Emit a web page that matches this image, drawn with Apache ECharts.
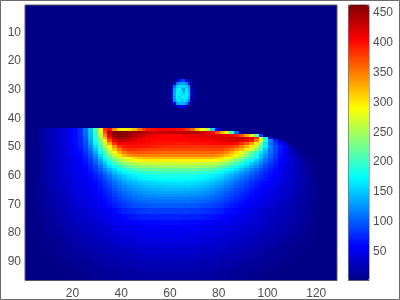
<!DOCTYPE html>
<html><head><meta charset="utf-8">
<style>html,body{margin:0;padding:0;background:#fff}#c{width:400px;height:300px;filter:blur(0.45px)}</style>
<script src="https://cdn.jsdelivr.net/npm/echarts@6/dist/echarts.min.js"></script>
</head><body><div id="c"></div>
<script>
const xTickLabels=[20,40,60,80,100,120];
const yTickLabels=[10,20,30,40,50,60,70,80,90];
const barTickLabels=[50,100,150,200,250,300,350,400,450];
const background=3, columnCount=128, rowCount=96, valueMin=2, valueMax=463;

// rows 44-69, one value per two columns (x=2,4,...); omitted right-hand cells are background
const row44=[3,4,6,14,22,28,33,38,44,54,64,80,110,150,205,280,385,400,340,300,295,300,320,350,380,395,400,405,405,405,405,400,395,385,360,310,290,260,160,60,8];
const row45=[3,4,6,14,22,28,33,38,44,54,64,80,108,148,200,275,370,440,460,462,460,455,450,445,440,435,430,428,428,430,432,435,438,440,440,438,435,420,400,370,320,295,200,110,10];
const row46=[3,4,6,14,22,28,33,38,44,54,64,78,105,145,195,260,345,420,452,460,458,450,440,432,425,418,412,408,405,405,405,405,410,412,415,418,420,420,420,420,420,415,410,395,370,330,300,220,90,6];
const row47=[3,4,6,14,22,28,33,38,44,54,64,76,100,140,190,245,320,395,440,452,450,440,430,420,412,408,405,405,405,405,405,405,405,408,410,412,415,418,420,422,424,425,430,435,435,430,415,380,290,170,50,4];
const row48=[3,4,6,14,22,28,33,38,44,54,64,75,98,135,185,235,295,370,415,432,432,425,418,412,408,405,404,403,402,402,402,402,402,403,404,405,406,408,409,410,415,420,425,425,420,410,395,350,285,185,115,70,30,4];
const row49=[3,4,6,14,22,28,33,38,44,54,64,73,95,128,175,220,270,330,385,410,412,410,405,403,402,401,400,398,397,396,395,395,395,395,396,397,398,400,402,405,405,405,405,400,385,365,335,300,240,165,110,82,60,32,8];
const row50=[3,4,6,13,20,26,31,35,41,50,60,72,92,118,160,205,250,290,340,380,395,398,398,397,396,394,392,390,388,387,386,385,385,385,385,385,385,385,385,385,385,385,378,370,350,325,300,265,215,170,118,92,72,58,22,6];
const row51=[3,4,6,13,20,26,31,35,41,50,60,68,88,110,150,190,232,270,315,350,378,385,385,382,380,378,377,376,376,375,375,375,375,375,375,375,375,375,375,375,375,365,355,340,322,300,275,240,195,150,112,90,70,56,32,12,4];
const row52=[3,4,6,13,20,26,31,35,41,50,60,65,82,102,135,175,212,250,290,325,350,365,370,368,366,364,362,361,360,360,360,360,360,360,360,360,360,360,360,360,355,345,325,305,280,250,222,195,165,135,108,88,68,54,38,20,8,3];
const row53=[3,4,6,13,20,26,31,35,41,50,60,62,76,96,122,160,195,230,265,298,325,340,345,347,347,346,346,345,345,345,345,345,345,345,345,345,345,345,345,340,332,320,305,285,260,235,210,182,150,125,102,84,66,52,40,26,12,5];
const row54=[3,4,6,13,20,25,30,34,39,46,51,60,72,90,115,148,180,212,242,270,280,292,308,316,320,322,323,323,322,322,322,322,322,322,322,322,322,322,320,312,302,292,280,262,240,215,192,170,145,118,100,82,62,52,42,32,20,10,4];
const row55=[3,4,6,13,20,25,30,34,39,46,51,58,68,85,108,135,165,195,222,248,262,275,285,292,297,298,298,297,296,295,295,295,295,295,295,295,295,295,293,285,278,265,250,232,212,192,172,152,130,110,92,76,60,50,40,32,22,12,5];
const row56=[3,4,6,13,20,25,30,34,39,46,51,56,64,78,98,124,150,175,200,222,238,250,258,262,265,267,268,268,268,268,268,268,268,268,268,266,265,264,262,255,245,235,220,205,188,170,152,135,118,100,85,72,58,48,38,30,22,14,6,3];
const row57=[3,4,6,13,20,25,30,34,39,46,51,55,62,74,90,112,136,158,178,198,212,222,232,238,240,242,244,245,245,245,245,245,245,245,245,244,242,240,237,228,220,208,195,180,165,150,135,120,105,90,78,68,56,46,37,30,23,15,8,4];
const row58=[3,4,6,13,20,25,30,34,39,46,51,54,60,70,84,102,122,142,160,178,190,200,208,214,218,220,222,222,222,222,222,222,222,222,222,220,218,216,212,204,195,184,172,160,146,133,120,107,95,82,72,64,54,45,36,29,23,16,9,4];
const row59=[3,4,6,13,20,25,30,34,39,46,51,52,58,66,78,94,110,128,144,160,172,180,187,192,196,198,200,200,200,200,200,200,200,200,200,198,196,194,190,182,174,165,154,143,131,120,108,97,86,76,68,60,52,44,36,29,23,17,10,5];
const row60=[3,4,6,13,20,24,29,33,38,44,48,52,56,62,72,84,98,114,130,144,156,164,170,176,180,182,184,186,187,187,187,187,187,187,186,184,180,176,170,164,157,148,138,128,118,108,98,88,80,72,65,58,51,44,37,30,24,18,12,7,3];
const row61=[3,4,6,13,19,24,28,32,37,43,47,51,54,60,68,80,92,107,122,135,146,155,160,166,170,173,175,176,177,178,178,178,178,178,177,175,171,167,161,155,148,139,130,120,110,101,91,82,75,68,61,55,48,42,35,29,23,17,12,7,3];
const row62=[3,4,6,13,19,23,28,32,36,42,46,50,53,58,65,76,87,100,114,126,137,145,151,156,160,163,165,167,168,169,170,170,170,169,168,166,162,158,152,146,139,130,121,112,103,94,85,77,71,64,58,52,46,40,34,28,22,17,12,8,4];
const row63=[3,4,6,12,18,23,27,31,35,41,45,49,52,57,63,72,83,94,107,119,129,137,143,147,151,154,156,158,159,160,161,161,161,160,159,157,153,149,144,138,131,123,114,105,97,88,80,73,67,61,55,50,44,39,33,28,22,17,12,8,4];
const row64=[3,4,6,12,18,22,26,30,34,40,44,48,51,55,61,69,79,89,101,112,122,129,135,139,143,145,147,149,150,151,152,152,152,151,150,148,144,140,135,129,123,115,107,99,91,83,76,69,63,58,52,47,42,37,32,27,22,17,12,8,4];
const row65=[3,4,6,12,17,22,26,29,33,39,43,47,50,54,59,66,75,85,96,106,115,122,127,132,135,138,140,141,142,143,143,143,143,143,141,139,136,132,127,121,115,108,101,93,86,78,71,65,60,55,50,45,40,36,31,26,21,17,12,8,4];
const row66=[3,4,6,11,17,21,25,28,32,37,42,45,48,52,57,63,71,80,90,100,108,115,120,124,127,130,132,133,134,134,134,134,134,134,132,130,127,123,119,113,108,101,94,87,81,74,67,62,57,52,47,43,39,35,30,25,21,16,12,8,4];
const row67=[3,4,5,11,16,20,24,27,31,36,41,44,47,51,55,60,68,76,85,94,102,108,113,117,120,122,124,125,125,125,125,125,125,125,124,122,119,116,111,106,101,95,89,82,76,70,64,59,54,49,45,41,37,33,29,24,20,16,12,8,4];
const row68=[3,3,5,10,15,19,23,26,30,35,39,43,46,49,53,58,65,72,81,89,96,102,107,110,113,115,116,117,117,117,117,117,117,116,115,113,111,108,104,100,95,89,83,77,72,66,61,56,51,47,43,39,35,31,27,23,19,15,11,8,4];
const row69=[3,3,5,10,15,18,22,25,29,34,38,42,44,48,51,56,62,69,77,84,91,96,101,104,106,108,109,110,110,110,110,110,110,109,108,106,104,101,98,94,89,84,79,73,68,63,58,53,49,45,41,37,34,30,26,22,18,15,11,7,4];

// rows 70-75, one value per two columns, each covering two rows
const row70=[3,3,5,9,14,17,21,24,28,33,36,40,43,46,49,53,58,64,71,78,84,89,93,96,98,99,100,100,100,100,100,100,100,100,99,97,95,92,89,85,81,76,71,66,62,57,53,49,45,41,38,35,31,28,24,20,17,14,10,7,4];
const row72=[3,3,4,8,12,15,19,22,25,29,33,36,39,42,45,48,52,57,62,68,73,77,80,83,85,86,86,86,86,86,86,86,86,86,85,84,82,80,77,74,71,67,63,59,55,51,47,43,40,37,34,31,28,25,22,19,16,13,10,7,4];
const row74=[3,3,4,7,11,14,17,20,23,26,30,33,35,38,41,44,47,51,55,59,63,67,70,72,73,74,74,74,74,74,74,74,74,74,74,73,71,69,67,64,61,58,55,52,48,45,42,39,36,33,31,28,25,23,20,17,15,12,9,6,3];

// rows 76-96, one value per four columns, each covering two rows
const row76=[3,5,11,17,23,29,34,40,46,52,57,60,62,63,64,64,63,61,58,55,52,48,43,38,33,28,23,17,11,6,3,3];
const row78=[3,5,10,15,21,26,31,36,41,46,50,53,55,56,57,57,56,54,52,50,46,42,38,34,30,25,20,15,10,5,3,3];
const row80=[3,4,8,13,18,23,27,32,36,41,44,47,49,50,51,51,50,48,46,44,41,38,34,30,26,22,18,13,8,4,3,3];
const row82=[3,4,7,11,16,20,24,28,32,36,40,42,44,45,46,46,45,44,42,40,37,34,30,27,23,19,15,11,7,4,3,3];
const row84=[3,3,5,9,13,17,21,25,28,32,35,37,39,40,41,41,40,39,37,35,33,30,27,23,20,16,12,8,5,3,3,3];
const row86=[3,3,5,8,11,15,18,22,25,28,31,33,35,36,36,36,36,35,33,31,29,26,23,20,17,13,10,7,4,3,3,3];
const row88=[3,3,4,6,9,12,15,18,21,24,26,28,30,31,31,31,31,30,28,26,24,22,19,16,13,10,7,5,3,3,3,3];
const row90=[3,3,3,5,7,10,12,15,18,20,22,24,25,26,26,26,26,25,24,22,20,18,15,13,10,8,5,4,3,3,3,3];
const row92=[3,3,3,4,5,7,10,12,14,16,18,20,21,22,22,22,22,21,20,18,16,14,12,10,8,6,4,3,3,3,3,3];
const row94=[3,3,3,3,4,5,7,9,11,13,15,16,17,17,17,17,17,17,16,15,13,11,9,7,5,4,3,3,3,3,3,3];

// small spot: columns 61-69, rows 27-36, one value per cell
const spot27=[3,3,20,70,90,90,60,15,3];
const spot28=[3,30,110,130,135,135,120,60,3];
const spot29=[10,110,150,160,155,160,150,125,20];
const spot30=[40,130,165,175,140,130,165,140,40];
const spot31=[50,135,170,165,170,130,170,145,50];
const spot32=[50,135,170,170,150,165,170,145,50];
const spot33=[40,130,170,160,170,170,165,135,35];
const spot34=[15,120,155,165,145,165,150,120,15];
const spot35=[3,60,125,140,145,140,120,50,3];
const spot36=[3,5,25,50,60,50,20,5,3];

const cells=[];
for(let r=0;r<rowCount;r++){cells.push(new Array(columnCount).fill(background));}
function paint(firstRow,rowSpan,colSpan,values){
  for(let r=firstRow;r<firstRow+rowSpan&&r<=rowCount;r++){
    values.forEach((v,i)=>{for(let c=i*colSpan;c<(i+1)*colSpan;c++)cells[r-1][c]=v;});
  }
}
[row44,row45,row46,row47,row48,row49,row50,row51,row52,row53,row54,row55,row56,row57,row58,row59,row60,row61,row62,row63,row64,row65,row66,row67,row68,row69]
  .forEach((v,i)=>paint(44+i,1,2,v));
[row70,row72,row74].forEach((v,i)=>paint(70+i*2,2,2,v));
[row76,row78,row80,row82,row84,row86,row88,row90,row92,row94].forEach((v,i)=>paint(76+i*2,i===9?3:2,4,v));
[spot27,spot28,spot29,spot30,spot31,spot32,spot33,spot34,spot35,spot36].forEach((v,i)=>{
  v.forEach((val,j)=>{cells[26+i][60+j]=val;});
});
const heatData=[];
cells.forEach((row,r)=>row.forEach((v,c)=>heatData.push([c,r,v])));
const xCats=Array.from({length:columnCount},(_,i)=>String(i+1));
const yCats=Array.from({length:rowCount},(_,i)=>String(i+1));
const jet=['#000084','#0000ff','#0080ff','#00ffff','#80ff80','#ffff00','#ff8000','#ff0000','#800000'];
const txt={color:'#4d4d4d',fontFamily:'Liberation Sans',fontSize:12};
const lineCol='#5a5a66';
const chart=echarts.init(document.getElementById('c'),null,{renderer:'canvas'});
chart.setOption({
  animation:false,backgroundColor:'#fff',
  grid:[
    {left:25,top:5,width:312,height:275.5,show:true,borderColor:lineCol,borderWidth:1,backgroundColor:'transparent',z:5},
    {left:348.5,top:5,width:20.5,height:275.5,show:true,borderColor:lineCol,borderWidth:1,backgroundColor:'transparent'}
  ],
  xAxis:[
    {type:'category',gridIndex:0,data:xCats,position:'bottom',
     axisLine:{show:false},splitLine:{show:false},
     axisTick:{show:true,inside:true,length:3,alignWithLabel:true,lineStyle:{color:lineCol},
       interval:i=>xTickLabels.includes(i+1)},
     axisLabel:{...txt,margin:7,interval:i=>xTickLabels.includes(i+1)}},
    {type:'category',gridIndex:1,data:[''],axisLine:{show:false},axisTick:{show:false},axisLabel:{show:false}}
  ],
  yAxis:[
    {type:'category',gridIndex:0,data:yCats,inverse:true,
     axisLine:{show:false},splitLine:{show:false},
     axisTick:{show:true,inside:true,length:3,alignWithLabel:true,lineStyle:{color:lineCol},
       interval:i=>yTickLabels.includes(i+1)},
     axisLabel:{...txt,margin:4,interval:i=>yTickLabels.includes(i+1)}},
    {type:'value',gridIndex:1,position:'right',min:valueMin,max:valueMax,
     axisLine:{show:false},splitLine:{show:false},
     axisTick:{show:true,inside:true,length:2,lineStyle:{color:lineCol},customValues:barTickLabels},
     axisLabel:{...txt,margin:4,customValues:barTickLabels}}
  ],
  visualMap:{type:'continuous',min:valueMin,max:valueMax,dimension:2,seriesIndex:0,calculable:false,hoverLink:false,
    left:348.5,top:5,itemWidth:20.5,itemHeight:275.5,padding:0,text:['',''],textGap:0,orient:'vertical',
    inRange:{color:jet}},
  graphic:[{type:'rect',silent:true,z:100,shape:{x:0.5,y:0.5,width:399,height:299},style:{fill:'none',stroke:'#6a6a6a',lineWidth:1}}],
  series:[{type:'custom',coordinateSystem:'cartesian2d',xAxisIndex:0,yAxisIndex:0,data:heatData,
    encode:{x:0,y:1},progressive:0,silent:true,clip:true,
    renderItem(params,api){
      const p=api.coord([api.value(0),api.value(1)]);
      const s=api.size([1,1]);
      const x0=Math.floor(p[0]-s[0]/2), y0=Math.floor(p[1]-s[1]/2);
      const x1=Math.ceil(p[0]+s[0]/2), y1=Math.ceil(p[1]+s[1]/2);
      return {type:'rect',shape:{x:x0,y:y0,width:x1-x0,height:y1-y0},style:{fill:api.visual('color')}};
    }}]
});
</script></body></html>
